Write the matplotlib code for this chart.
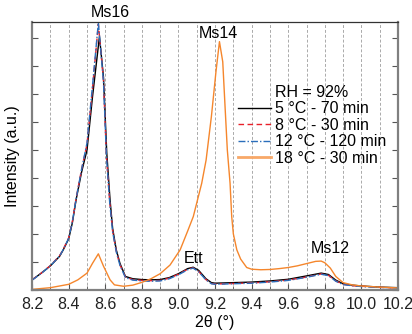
import matplotlib
matplotlib.use("Agg")
import matplotlib.pyplot as plt
from matplotlib.lines import Line2D
from matplotlib.ticker import MultipleLocator

plt.rcParams['font.family'] = ['Liberation Sans', 'DejaVu Sans']

# 5 C - 70 min
x_5 = [8.20, 8.25, 8.30, 8.35, 8.37, 8.40, 8.42, 8.44, 8.47, 8.50, 8.53, 8.568, 8.59,
       8.608, 8.626, 8.64, 8.66, 8.68, 8.71, 8.75, 8.80, 8.85, 8.90, 8.95, 9.00,
       9.05, 9.08, 9.11, 9.15, 9.18, 9.20, 9.30, 9.40, 9.50, 9.60, 9.70, 9.78,
       9.82, 9.86, 9.90, 9.95, 10.00, 10.10, 10.20]
y_5 = [0.36, 0.60, 0.86, 1.20, 1.43, 1.83, 2.40, 3.21, 4.20, 5.00, 6.90, 9.05, 7.60,
       4.89, 3.21, 2.20, 1.43, 0.95, 0.48, 0.40, 0.37, 0.36, 0.37, 0.44, 0.58,
       0.76, 0.81, 0.70, 0.40, 0.26, 0.24, 0.26, 0.28, 0.32, 0.38, 0.50, 0.60,
       0.55, 0.35, 0.22, 0.17, 0.14, 0.10, 0.08]

# 8 C - 30 min
x_8 = [8.20, 8.25, 8.30, 8.35, 8.37, 8.40, 8.42, 8.44, 8.47, 8.50, 8.53, 8.562, 8.59,
       8.606, 8.624, 8.64, 8.66, 8.68, 8.71, 8.75, 8.80, 8.85, 8.90, 8.95, 9.00,
       9.05, 9.08, 9.11, 9.15, 9.18, 9.20, 9.30, 9.40, 9.50, 9.60, 9.70, 9.78,
       9.82, 9.86, 9.90, 9.95, 10.00, 10.10, 10.20]
y_8 = [0.36, 0.60, 0.87, 1.22, 1.45, 1.86, 2.45, 3.25, 4.30, 5.20, 7.20, 9.50, 7.50,
       4.80, 3.15, 2.10, 1.38, 0.90, 0.46, 0.37, 0.34, 0.33, 0.34, 0.42, 0.56,
       0.74, 0.79, 0.66, 0.37, 0.23, 0.21, 0.23, 0.25, 0.29, 0.35, 0.46, 0.57,
       0.52, 0.32, 0.20, 0.15, 0.13, 0.09, 0.07]

# 12 C - 120 min
x_12 = x_8
y_12 = [0.35, 0.59, 0.86, 1.21, 1.44, 1.85, 2.44, 3.24, 4.30, 5.25, 7.30, 9.55, 7.45,
        4.78, 3.12, 2.08, 1.36, 0.88, 0.44, 0.35, 0.32, 0.31, 0.32, 0.40, 0.54,
        0.72, 0.78, 0.65, 0.36, 0.22, 0.20, 0.22, 0.24, 0.28, 0.34, 0.45, 0.56,
        0.51, 0.31, 0.19, 0.15, 0.12, 0.09, 0.07]

# 18 C - 30 min
x_18 = [8.20, 8.30, 8.40, 8.45, 8.50, 8.53, 8.562, 8.59, 8.626, 8.65, 8.70, 8.75,
        8.80, 8.85, 8.90, 8.954, 9.009, 9.05, 9.081, 9.127, 9.151, 9.18, 9.205,
        9.224, 9.242, 9.255, 9.267, 9.282, 9.291, 9.30, 9.319, 9.34, 9.373, 9.40,
        9.45, 9.50, 9.55, 9.60, 9.65, 9.70, 9.75, 9.78, 9.80, 9.83, 9.86, 9.90,
        9.95, 10.00, 10.10, 10.20]
y_18 = [0.02, 0.08, 0.20, 0.36, 0.60, 0.95, 1.29, 0.85, 0.36, 0.18, 0.13, 0.17,
        0.27, 0.40, 0.58, 0.89, 1.43, 2.10, 2.62, 3.81, 4.64, 6.20, 7.80,
        8.87, 8.15, 6.50, 5.00, 3.81, 2.62, 2.00, 1.43, 1.10, 0.80, 0.74,
        0.72, 0.73, 0.76, 0.80, 0.86, 0.94, 1.02, 1.03, 0.97, 0.78, 0.48, 0.26,
        0.18, 0.14, 0.10, 0.07]

fig = plt.figure(figsize=(4.12, 3.34), dpi=100)
ax = fig.add_axes([0.078, 0.132, 0.888, 0.802])

ax.plot(x_5, y_5, color='black', lw=1.0)
ax.plot(x_8, y_8, color='#e8202a', lw=1.0, ls=(0, (4, 2.5)))
ax.plot(x_12, y_12, color='#2a6ebb', lw=1.0, ls=(0, (5, 1.5, 1, 1.5)))
ax.plot(x_18, y_18, color='#f5862c', lw=1.0)

ax.set_xlim(8.2, 10.2)
ax.set_ylim(0, 9.57)
ax.xaxis.set_major_locator(MultipleLocator(0.2))
ax.xaxis.set_minor_locator(MultipleLocator(0.1))
ax.yaxis.set_major_locator(MultipleLocator(1))
ax.set_xticklabels([f'{v:.1f}' for v in ax.get_xticks()])
ax.set_yticklabels([])
ax.tick_params(axis='x', which='both', direction='in', top=False, labelsize=11.5,
               colors='#555555', labelcolor='#222222', pad=5)
ax.tick_params(axis='x', which='major', length=4)
ax.tick_params(axis='x', which='minor', length=3)
ax.tick_params(axis='y', direction='in', left=True, right=True, length=4, colors='#555555')
ax.grid(True, axis='x', which='both', color='#aaaaaa', ls=(0, (3, 2)), lw=0.7)

for side in ['left', 'right', 'bottom']:
    ax.spines[side].set_color('#808080')
    ax.spines[side].set_linewidth(1.6)
ax.spines['top'].set_color('#333333')
ax.spines['top'].set_linewidth(0.9)

ax.set_xlabel('2θ (°)', fontsize=11.5, labelpad=2)
ax.set_ylabel('Intensity (a.u.)', fontsize=11.5, labelpad=5)

ax.text(8.626, 9.92, 'Ms16', fontsize=11.5, ha='center', va='center', clip_on=False)
ax.text(9.22, 9.17, 'Ms14', fontsize=11.5, ha='center', va='center')
ax.text(9.085, 1.14, 'Ett', fontsize=11.5, ha='center', va='center')
ax.text(9.83, 1.47, 'Ms12', fontsize=11.5, ha='center', va='center')

handles = [
    Line2D([], [], color='none'),
    Line2D([], [], color='black', lw=1.0),
    Line2D([], [], color='#e8202a', lw=1.0, ls=(0, (4, 2.5))),
    Line2D([], [], color='#2a6ebb', lw=1.0, ls=(0, (5, 1.5, 1, 1.5))),
    Line2D([], [], color='#f8a868', lw=2.0),
]
labels = ['RH = 92%', '5 °C - 70 min', '8 °C - 30 min', '12 °C - 120 min', '18 °C - 30 min']
ax.legend(handles, labels, loc='upper left', bbox_to_anchor=(0.531, 0.808),
          frameon=False, fontsize=11.5, handlelength=2.1, handletextpad=0.25,
          labelspacing=0.1, borderpad=0.2)

fig.savefig('out.png', dpi=100)
